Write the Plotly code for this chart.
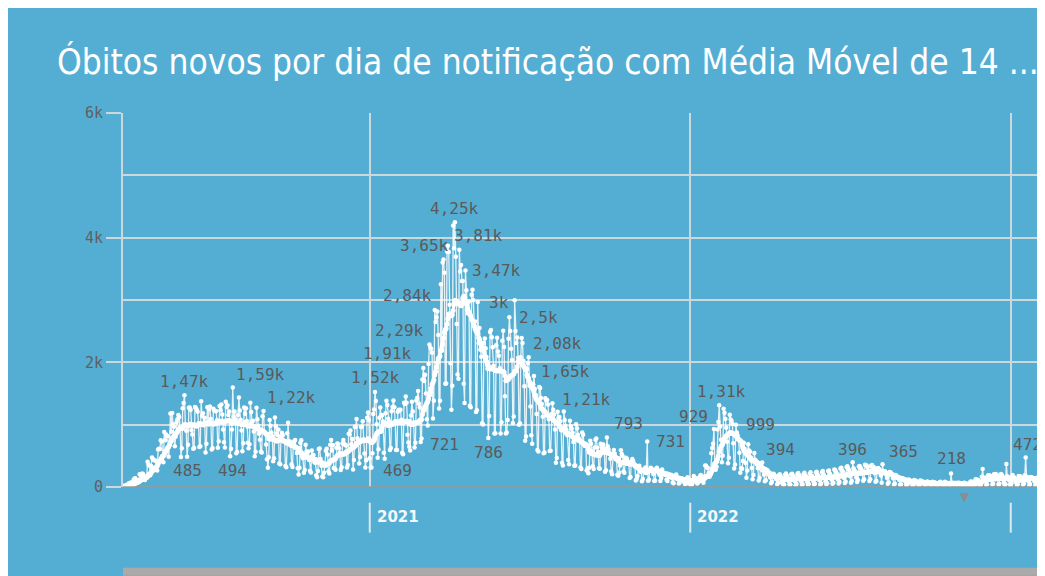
import pandas as pd
import plotly.graph_objects as go

# ---------------- data (daily notified deaths) ----------------
# 2020: starts Sunday 2020-03-15, one week per row (Sun..Sat)
deaths_2020 = [
    0, 0, 1, 3, 4, 7, 3,
    7, 9, 12, 11, 20, 15, 22,
    22, 23, 42, 40, 60, 58, 73,
    54, 67, 114, 133, 141, 115, 68,
    99, 105, 204, 204, 188, 217, 206,
    115, 113, 166, 165, 407, 357, 346,
    189, 338, 474, 449, 435, 428, 421,
    275, 263, 600, 615, 610, 751, 730,
    496, 396, 881, 749, 844, 824, 816,
    485, 674, 1179, 888, 1188, 1001, 965,
    653, 807, 1039, 1086, 1156, 1124, 956,
    480, 623, 1262, 1349, 1473, 1005, 904,
    485, 679, 1272, 1274, 1239, 909, 843,
    612, 627, 1282, 1269, 1238, 1206, 1022,
    641, 654, 1374, 1141, 1185, 990, 1109,
    552, 692, 1280, 1038, 1252, 1290, 1091,
    602, 620, 1254, 1223, 1220, 1214, 1071,
    631, 733, 1300, 1233, 1322, 1163, 921,
    716, 632, 1367, 1284, 1311, 1156, 1211,
    494, 614, 921, 1595, 1129, 1212, 1088,
    541, 561, 1154, 1437, 1226, 1079, 905,
    572, 703, 1274, 1175, 1262, 1060, 709,
    620, 684, 1352, 1204, 1054, 1064, 892,
    494, 565, 1271, 1085, 984, 855, 758,
    566, 553, 1136, 1220, 880, 863, 682,
    447, 310, 476, 1075, 983, 874, 814,
    415, 460, 1113, 976, 858, 829, 921,
    377, 363, 809, 869, 831, 729, 733,
    335, 317, 863, 1031, 729, 728, 691,
    366, 322, 711, 734, 754, 620, 544,
    301, 201, 309, 710, 750, 492, 461,
    230, 271, 676, 566, 497, 571, 432,
    261, 231, 586, 510, 513, 399, 390,
    190, 158, 257, 608, 616, 450, 339,
    167, 155, 230, 350, 583, 615, 520,
    252, 216, 676, 754, 587, 675, 303,
    302, 277, 630, 698, 691, 620, 551,
    272, 317, 697, 755, 694, 672, 664,
    313, 352, 854, 848, 908, 686, 770,
    279, 433, 964, 968, 1092, 783, 736,
    379, 483, 964, 968, 1054, 762, 539,
    314, 431, 1111, 1194, 1074,
]

# 2021: starts Friday 2021-01-01
deaths_2021 = [
    462, 314,
    314, 542, 1171, 1242, 1524, 1379, 1006,
    469, 605, 1110, 1274, 1151, 1151, 1050,
    551, 452, 1183, 1382, 1316, 1096, 1050,
    592, 627, 1214, 1283, 1386, 1279, 1054,
    595, 595, 1209, 1240, 1232, 1239, 1080,
    551, 525, 1350, 1330, 1452, 1351, 837,
    713, 647, 585, 1149, 1367, 1212, 1035,
    634, 708, 1386, 1428, 1541, 1337, 1275,
    721, 778, 1726, 1910, 1699, 1800, 1498,
    1086, 987, 1972, 2286, 2233, 2216, 2152,
    1097, 1383, 2841, 2648, 2724, 2815, 2438,
    1259, 1383, 3251, 2244, 3600, 3650, 3438,
    1656, 1660, 3780, 3869, 3769, 2922, 1987,
    1240, 1623, 4195, 3829, 4249, 3693, 2616,
    1803, 1738, 3808, 3459, 3560, 3305, 3305,
    1657, 1347, 3472, 3157, 2914, 2865, 2976,
    1305, 1279, 3086, 3163, 2997, 2595, 2656,
    1202, 1232, 2966, 2311, 2550, 2202, 2091,
    1024, 1003, 2311, 2383, 2224, 2087, 1896,
    786, 1140, 2488, 2517, 2404, 2241, 1944,
    860, 863, 2275, 2393, 2174, 2107, 1906,
    860, 1038, 2346, 2507, 2245, 1454, 859,
    873, 1075, 2378, 2723, 2504, 2216, 2036,
    1025, 1130, 2997, 2504, 2311, 2397, 2074,
    1000, 1021, 2081, 2392, 2311, 2025, 1617,
    743, 810, 1893, 1990, 2081, 1624, 1291,
    830, 695, 1650, 1780, 1574, 1475, 1171,
    595, 571, 1605, 1589, 1427, 1330, 1129,
    542, 555, 1424, 1388, 1394, 1324, 1088,
    578, 583, 1171, 1344, 1240, 1164, 924,
    389, 465, 1209, 1110, 1121, 1054, 910,
    389, 344, 1210, 1075, 977, 918, 832,
    435, 366, 1064, 975, 935, 871, 721,
    342, 344, 1006, 941, 840, 783, 753,
    314, 289, 876, 839, 692, 661, 692,
    266, 297, 219, 310, 741, 692, 578,
    332, 289, 634, 760, 778, 635, 564,
    302, 292, 695, 643, 638, 681, 615,
    245, 268, 793, 655, 602, 531, 455,
    249, 205, 506, 593, 532, 444, 443,
    196, 182, 227, 346, 589, 530, 499,
    250, 227, 447, 471, 451, 406, 392,
    143, 159, 408, 451, 416, 357, 327,
    106, 130, 177, 311, 340, 244, 252,
    92, 129, 258, 285, 314, 263, 731,
    101, 115, 276, 307, 293, 258, 208,
    98, 100, 291, 309, 271, 243, 195,
    95, 145, 281, 231, 207, 222, 202,
    116, 98, 208, 159, 187, 197, 145,
    72, 62, 178, 156, 202, 130, 125,
    58, 73, 120, 139, 129, 114, 81,
    48, 54, 137, 158, 135, 57,
]

# 2022: starts Saturday 2022-01-01
deaths_2022 = [
    50,
    45, 41, 117, 175, 148, 141, 108,
    58, 71, 147, 171, 193, 147, 111,
    70, 170, 344, 339, 314, 305, 223,
    166, 201, 542, 624, 695, 929, 370,
    275, 323, 924, 1041, 1310, 972, 758,
    396, 501, 1257, 1192, 1091, 949, 727,
    380, 470, 1159, 1084, 1061, 1010, 700,
    296, 361, 999, 875, 825, 767, 548,
    227, 299, 294, 416, 711, 613, 385,
    150, 265, 685, 587, 566, 472, 303,
    124, 192, 544, 421, 397, 362, 299,
    105, 147, 308, 282, 394, 262, 199,
    91, 107, 241, 269, 238, 192, 154,
    62, 83, 183, 212, 164, 143, 125,
    43, 65, 189, 205, 173, 86, 62,
    36, 41, 195, 218, 182, 153, 91,
    42, 40, 204, 214, 179, 161, 98,
    30, 49, 209, 224, 189, 149, 96,
    37, 43, 201, 227, 183, 162, 88,
    39, 48, 212, 236, 178, 173, 95,
    44, 54, 231, 244, 192, 177, 107,
    42, 56, 235, 255, 201, 168, 94,
    43, 62, 257, 265, 213, 184, 116,
    51, 69, 281, 273, 244, 211, 119,
    56, 79, 298, 308, 265, 242, 145,
    66, 84, 322, 331, 290, 264, 172,
    70, 96, 396, 300, 261, 252, 152,
    82, 112, 328, 337, 304, 286, 217,
    101, 125, 356, 352, 339, 311, 232,
    98, 124, 342, 354, 322, 319, 220,
    85, 97, 298, 306, 290, 267, 183,
    68, 365, 226, 254, 247, 206, 149,
    52, 72, 241, 236, 216, 195, 142,
    39, 52, 194, 176, 165, 145, 111,
    38, 40, 140, 140, 125, 113, 83,
    32, 33, 61, 119, 109, 97, 73,
    24, 30, 112, 99, 102, 84, 71,
    21, 30, 103, 95, 93, 84, 66,
    20, 24, 81, 88, 76, 74, 54,
    18, 26, 83, 76, 74, 68, 50,
    20, 22, 50, 78, 83, 64, 52,
    17, 21, 84, 73, 70, 60, 48,
    14, 20, 218, 63, 62, 48, 35,
    10, 17, 34, 69, 67, 62, 44,
    14, 18, 64, 68, 60, 55, 41,
    15, 22, 30, 86, 88, 80, 63,
    23, 30, 124, 122, 115, 110, 77,
    30, 42, 163, 288, 150, 148, 98,
    37, 45, 186, 188, 184, 172, 109,
    41, 52, 203, 199, 208, 183, 126,
    40, 48, 196, 209, 190, 160, 74,
    32, 46, 370, 171, 162, 112, 44,
]

# 2023: starts Sunday 2023-01-01
deaths_2023 = [
    21, 63, 193, 168, 150, 124, 77,
    34, 45, 177, 172, 168, 150, 104,
    38, 55, 188, 472, 165, 148, 96,
    32, 48, 160, 151, 140, 133, 89,
    27, 41, 150, 145, 134, 125, 82,
    25, 38, 140, 138, 130,
]

series_starts = ["2020-03-15", "2021-01-01", "2022-01-01", "2023-01-01"]

# dates of the points that carry a data label in the chart
label_dates = [
    "2020-06-04", "2020-06-07", "2020-07-26", "2020-07-29", "2020-09-02",
    "2021-01-07", "2021-01-10", "2021-02-28", "2021-03-03", "2021-03-10",
    "2021-03-16", "2021-03-26", "2021-04-08", "2021-04-13", "2021-04-20",
    "2021-05-16", "2021-06-15", "2021-06-16", "2021-07-01", "2021-07-06",
    "2021-08-10", "2021-09-28", "2021-11-13",
    "2022-01-28", "2022-02-03", "2022-02-22", "2022-03-24", "2022-07-05",
    "2022-08-08", "2022-10-25", "2023-01-18",
]

year_ticks = ["2021-01-01", "2022-01-01", "2023-01-01"]
year_tick_labels = ["2021", "2022", ""]

title_text = "Óbitos novos por dia de notificação com Média Móvel de 14 ..."

# ---------------- styles ----------------
BG = "#54aed3"
GRID = "#cdd8dd"
LABEL_GRAY = "#5a5a5a"
MONO = "DejaVu Sans Mono"
TITLE_FONT = "DejaVu Sans Condensed, Roboto, sans-serif"
# label offsets (px, relative to the labelled point; +dy = downwards)
label_offsets = [
    (0, -14), (0, 14), (2, 14), (28, -13), (28, -13),
    (0, -15), (20, 13), (24, 2), (-36, -14), (-30, -14),
    (-27, -14), (-19, -14), (0, -14), (19, -14), (31, 0),
    (0, 14), (-16, 2), (23, -13), (29, -14), (32, -13),
    (23, -12), (22, -14), (23, 0),
    (-20, -13), (2, -14), (25, 0), (18, -13), (0, -13),
    (21, -13), (0, -15), (2, -13),
]

# ---------------- build series ----------------
parts = []
for start, vals in zip(series_starts, [deaths_2020, deaths_2021, deaths_2022, deaths_2023]):
    parts.append(pd.Series(vals, index=pd.date_range(start, periods=len(vals), freq="D"), dtype=float))
daily = pd.concat(parts)
daily = daily[~daily.index.duplicated()].sort_index()
ma14 = daily.rolling(14, min_periods=1).mean()


def fmt(v):
    if v >= 1000:
        s = f"{v / 1000:.2f}".rstrip("0").rstrip(".")
        return s.replace(".", ",") + "k"
    return str(int(round(v)))


fig = go.Figure()
fig.add_trace(go.Scatter(
    x=daily.index, y=daily.values, mode="lines+markers",
    line=dict(color="rgba(255,255,255,0.85)", width=1.3),
    marker=dict(size=4.5, color="white"),
    hoverinfo="skip", showlegend=False,
))
fig.add_trace(go.Scatter(
    x=ma14.index, y=ma14.values, mode="lines+markers",
    line=dict(color="white", width=2.8),
    marker=dict(size=5, color="white"),
    hoverinfo="skip", showlegend=False,
))

annotations = []
for d, (dx, dy) in zip(label_dates, label_offsets):
    v = daily.loc[pd.Timestamp(d)]
    annotations.append(dict(
        x=d, y=v, xref="x", yref="y", text=fmt(v), showarrow=False,
        xanchor="center", yanchor="middle", xshift=dx, yshift=-dy,
        font=dict(family=MONO, size=16, color=LABEL_GRAY),
    ))

shapes = []
for t, lab in zip(year_ticks, year_tick_labels):
    shapes.append(dict(type="line", xref="x", yref="paper", x0=t, x1=t,
                       y0=-0.042, y1=-0.122, line=dict(color="#dce8ee", width=2)))
    if lab:
        annotations.append(dict(
            x=t, y=-0.08, xref="x", yref="paper", text=lab, showarrow=False,
            xanchor="left", yanchor="middle", xshift=5,
            font=dict(family="DejaVu Sans", size=15, color="#f4f8fa", weight="bold"),
        ))

# zero line
shapes.append(dict(type="line", xref="paper", yref="y", x0=0, x1=1, y0=0, y1=0,
                   line=dict(color="#9a9a9a", width=1.5)))
# bottom scroll bar
shapes.append(dict(type="rect", xref="paper", yref="paper", x0=0, x1=1,
                   y0=-0.237, y1=-0.2158, fillcolor="#aaaaaa", line=dict(width=0)))
# small marker below the axis
annotations.append(dict(x="2022-11-10", y=-0.027, xref="x", yref="paper", text="▼",
                        showarrow=False, xanchor="center", yanchor="middle",
                        font=dict(family="DejaVu Sans", size=12, color="#8c8c8c")))

fig.update_layout(
    width=1037, height=568,
    margin=dict(l=115, r=0, t=105, b=89, pad=0),
    paper_bgcolor=BG, plot_bgcolor=BG,
    title=dict(text=title_text, x=49 / 1037, xanchor="left", xref="container",
               y=1 - 54 / 568, yanchor="middle", yref="container",
               font=dict(family=TITLE_FONT, size=35, color="white")),
    xaxis=dict(range=["2020-03-26", "2023-02-09"], tickvals=year_ticks,
               showticklabels=False, showgrid=True, gridcolor=GRID, gridwidth=2,
               zeroline=False, showline=False, ticks=""),
    yaxis=dict(range=[0, 6000], dtick=2000, tick0=0, tickformat="~s",
               showgrid=True, gridcolor=GRID, gridwidth=1.5,
               minor=dict(dtick=1000, showgrid=True, gridcolor=GRID, gridwidth=1.5),
               ticks="outside", ticklen=15, tickcolor=GRID, tickwidth=1.5,
               showline=True, linecolor=GRID, linewidth=2, zeroline=False,
               tickfont=dict(family=MONO, size=15, color="#606060")),
    annotations=annotations, shapes=shapes,
)

fig.write_html("out.html")
